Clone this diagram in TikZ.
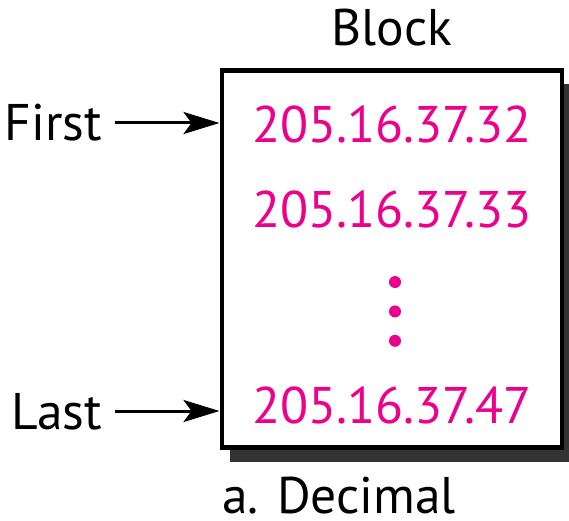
\documentclass[tikz,border=0pt]{standalone}
\usepackage{fontspec}
\setmainfont{PT Sans}
\usetikzlibrary{positioning,arrows.meta,shadows}
\definecolor{addrpink}{RGB}{236,0,140}

\begin{document}
\begin{tikzpicture}[
  x=1pt, y=1pt,
  blockbox/.style={
    draw, line width=4.5pt, fill=white,
    minimum width=340pt, minimum height=377pt,
    general shadow={fill=black!80, shadow xshift=8pt, shadow yshift=-14pt}
  },
  lbl/.style={font=\fontsize{51.5}{58}\selectfont, inner sep=0pt,
    text height=36pt, text depth=0pt},
  addr/.style={lbl, text=addrpink},
  dot/.style={circle, fill=addrpink, inner sep=0pt, minimum size=12pt},
  arr/.style={-{Stealth[length=36pt,width=22pt,inset=8pt]}, line width=3pt}
]

  \useasboundingbox (0,0) rectangle (569,520);

  % The block with its title
  \node[blockbox] (block) at (391.75,261) {};
  \node[lbl, above=23pt of block] (blocklbl) {Block};

  % Addresses inside the block
  \node[addr] (addr1) at (392,395.5) {205.16.37.32};
  \node[addr] (addr2) at (392,311)   {205.16.37.33};
  \node[dot] (dot1) at (395,238) {};
  \node[dot, below=17pt of dot1] (dot2) {};
  \node[dot, below=17pt of dot2] (dot3) {};
  \node[addr] (addr4) at (392,115)   {205.16.37.47};

  % First and last pointers
  \node[lbl, anchor=east, inner xsep=13pt] (first) at (115,397) {First};
  \node[lbl, anchor=east, inner xsep=13pt] (last)  at (115,109) {Last};
  \draw[arr] (first.east) -- (first.east -| block.west);
  \draw[arr] (last.east)  -- (last.east -| block.west);

  % Caption
  \node[lbl] (caption) at (339,25) {a. Decimal};

\end{tikzpicture}
\end{document}
